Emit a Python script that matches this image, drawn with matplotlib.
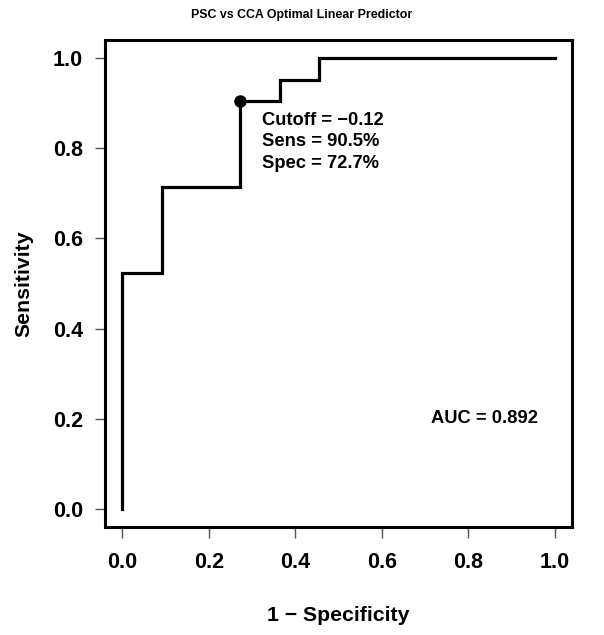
import matplotlib.pyplot as plt

# ROC-Kurve (Stufen)
fpr = [0.0, 0.0, 1/11, 1/11, 3/11, 3/11, 4/11, 4/11, 5/11, 5/11, 1.0]
tpr = [0.0, 11/21, 11/21, 15/21, 15/21, 19/21, 19/21, 20/21, 20/21, 1.0, 1.0]

opt_x = 3/11
opt_y = 19/21
cutoff_text = ['Cutoff = \u22120.12', 'Sens = 90.5%', 'Spec = 72.7%']
auc_text = 'AUC = 0.892'
ticks = [0.0, 0.2, 0.4, 0.6, 0.8, 1.0]

plt.rcParams['font.family'] = ['Liberation Sans', 'DejaVu Sans']
plt.rcParams['font.weight'] = 'bold'

fig = plt.figure(figsize=(6.04, 6.35), dpi=100)
ax = fig.add_axes([105/604, 1 - 527/635, 467/604, 487/635])

ax.plot(fpr, tpr, color='black', linewidth=2.3, solid_joinstyle='miter')
ax.plot(opt_x, opt_y, 'o', color='black', markersize=8)

ax.text(0.323, 0.862, cutoff_text[0], fontsize=13.2, fontweight='bold', va='center', ha='left')
ax.text(0.323, 0.814, cutoff_text[1], fontsize=13.2, fontweight='bold', va='center', ha='left')
ax.text(0.323, 0.767, cutoff_text[2], fontsize=13.2, fontweight='bold', va='center', ha='left')
ax.text(0.838, 0.20, auc_text, fontsize=13.2, fontweight='bold', va='center', ha='center')

ax.set_xlim(-0.04, 1.04)
ax.set_ylim(-0.04, 1.04)
ax.set_xticks(ticks)
ax.set_yticks(ticks)
ax.set_xticklabels([f'{t:.1f}' for t in ticks], fontsize=15.5, fontweight='bold')
ax.set_yticklabels([f'{t:.1f}' for t in ticks], fontsize=15.5, fontweight='bold')
ax.tick_params(axis='y', direction='out', length=7, width=1, color='#555555', pad=9)
ax.tick_params(axis='x', direction='out', length=8, width=1, color='#555555', pad=10)

for s in ax.spines.values():
    s.set_linewidth(2.2)

ax.set_xlabel('1 \u2212 Specificity', fontsize=15.3, fontweight='bold', labelpad=24)
ax.set_ylabel('Sensitivity', fontsize=15.3, fontweight='bold', labelpad=14)
fig.text(0.5, 1 - 15/635, 'PSC vs CCA Optimal Linear Predictor', ha='center', va='center',
         fontsize=8.9, fontweight='bold')

fig.savefig('out.png', dpi=100)
